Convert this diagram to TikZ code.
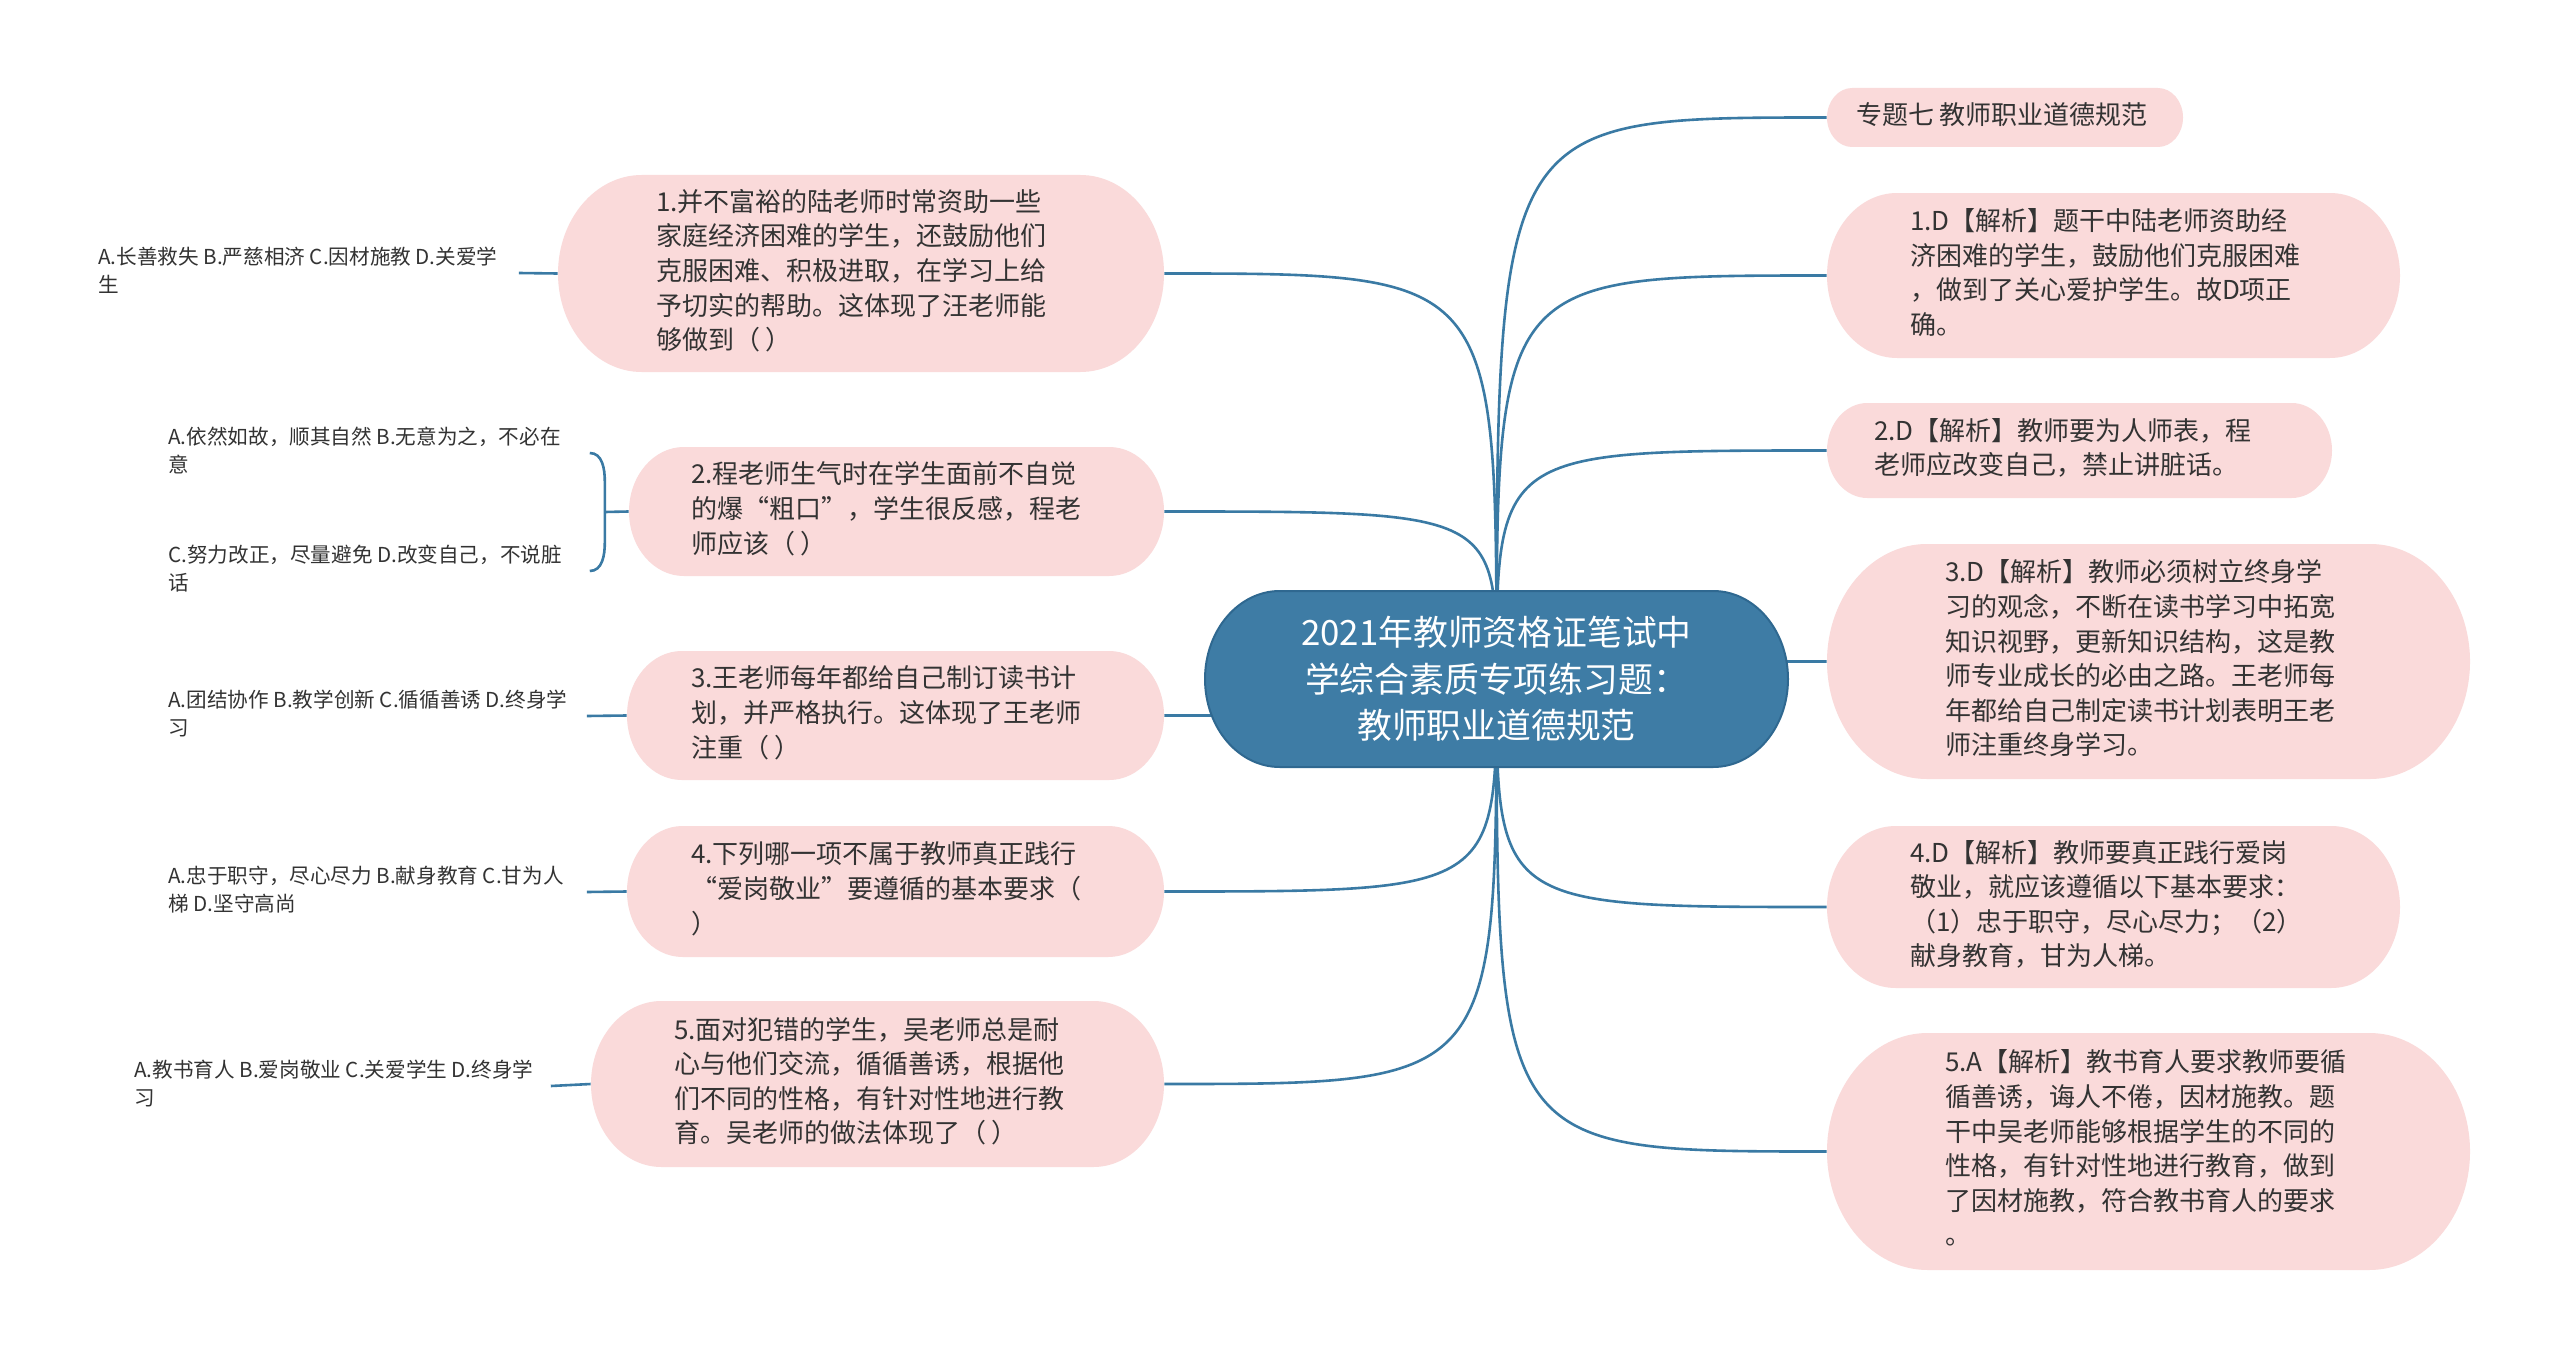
\documentclass[tikz,border=0pt]{standalone}
\usepackage{fontspec}
\setmainfont{Noto Sans CJK SC}
\usetikzlibrary{backgrounds,calc}
\definecolor{edgeblue}{HTML}{3A7AA4}
\definecolor{pinkbg}{HTML}{FADADA}
\definecolor{centerbg}{HTML}{3E7CA5}
\definecolor{centerline}{HTML}{2F6890}
\definecolor{txt}{HTML}{333333}
\tikzset{
  edge/.style={draw=edgeblue, line width=1.3pt},
  pinkfill/.style={fill=pinkbg},
  centerfill/.style={fill=centerbg, draw=centerline, line width=1pt},
  pinkbox/.style={inner sep=0pt, text=txt, font=\fontsize{13}{17.3}\selectfont},
  leaf/.style={inner sep=0pt, anchor=west, text=txt, font=\fontsize{10.3}{14}\selectfont},
  centernode/.style={inner sep=0pt, text=white, align=center, font=\fontsize{17.4}{23.3}\selectfont},
}
% pill outline: cx, cy, w, h, style (pixel units, y downward)
\newcommand\pillpath[5]{%
  \pgfmathsetmacro\pry{#4/2}\pgfmathsetmacro\prx{0.85*#4/2}%
  \path[#5] ({#1-#3/2+\prx},{-#2-\pry}) -- ({#1+#3/2-\prx},{-#2-\pry})
    arc[start angle=-90,end angle=90,x radius=\prx,y radius=\pry]
    -- ({#1-#3/2+\prx},{-#2+\pry})
    arc[start angle=90,end angle=270,x radius=\prx,y radius=\pry] -- cycle;}
\newcommand\boxtext[3]{\makebox[\dimexpr #1pt/2\relax][l]{\hspace*{\dimexpr #2pt/2\relax}\begin{tabular}{@{}l@{}}#3\end{tabular}}}
% name, cx, cy, w, h, pad, lines
\newcommand\pinknode[7]{%
  \pillpath{#2}{#3}{#4}{#5}{pinkfill}%
  \node[pinkbox, minimum width={#4*0.5pt}, minimum height={#5*0.5pt}] (#1) at (#2,-#3) {\boxtext{#4}{#6}{#7}};}
% name, left x, cy, width, lines
\newcommand\leafnode[5]{%
  \node[leaf] (#1) at (#2,-#3) {\makebox[\dimexpr #4pt/2\relax][l]{\begin{tabular}{@{}l@{}}#5\end{tabular}}};}

\begin{document}
\begin{tikzpicture}[x=0.5pt,y=0.5pt]
\useasboundingbox (0,0) rectangle (2560,-1359);

% centre
\pillpath{1496.5}{679}{583}{176}{centerfill}
\node[centernode, minimum width=291.5pt, minimum height=88pt] (C) at (1496.5,-679)
  {2021年教师资格证笔试中\\学综合素质专项练习题：\\教师职业道德规范};

% left question boxes
\pinknode{Q1}{861}{273.5}{606}{197}{98}{1.并不富裕的陆老师时常资助一些\\家庭经济困难的学生，还鼓励他们\\克服困难、积极进取，在学习上给\\予切实的帮助。这体现了汪老师能\\够做到（ ）}
\pinknode{Q2}{896.5}{511.5}{535}{129}{62}{2.程老师生气时在学生面前不自觉\\的爆“粗口”，学生很反感，程老\\师应该（ ）}
\pinknode{Q3}{895.5}{715.5}{537}{129}{64}{3.王老师每年都给自己制订读书计\\划，并严格执行。这体现了王老师\\注重（ ）}
\pinknode{Q4}{895.5}{891.5}{537}{131}{64}{4.下列哪一项不属于教师真正践行\\“爱岗敬业”要遵循的基本要求（\\）}
\pinknode{Q5}{877.5}{1084}{573}{166}{83}{5.面对犯错的学生，吴老师总是耐\\心与他们交流，循循善诱，根据他\\们不同的性格，有针对性地进行教\\育。吴老师的做法体现了（ ）}

% right answer boxes
\pinknode{R0}{2005}{117.5}{356}{59}{29}{专题七 教师职业道德规范}
\pinknode{R1}{2113.5}{275.5}{573}{165}{83}{1.D【解析】题干中陆老师资助经\\济困难的学生，鼓励他们克服困难\\，做到了关心爱护学生。故D项正\\确。}
\pinknode{R2}{2079.5}{450.5}{505}{95}{47}{2.D【解析】教师要为人师表，程\\老师应改变自己，禁止讲脏话。}
\pinknode{R3}{2148.5}{661.5}{643}{235}{118}{3.D【解析】教师必须树立终身学\\习的观念，不断在读书学习中拓宽\\知识视野，更新知识结构，这是教\\师专业成长的必由之路。王老师每\\年都给自己制定读书计划表明王老\\师注重终身学习。}
\pinknode{R4}{2113.5}{907}{573}{162}{83}{4.D【解析】教师要真正践行爱岗\\敬业，就应该遵循以下基本要求：\\（1）忠于职守，尽心尽力；（2）\\献身教育，甘为人梯。}
\pinknode{R5}{2148.5}{1151.5}{643}{237}{118}{5.A【解析】教书育人要求教师要循\\循善诱，诲人不倦，因材施教。题\\干中吴老师能够根据学生的不同的\\性格，有针对性地进行教育，做到\\了因材施教，符合教书育人的要求\\。}

% leaf option texts
\leafnode{L1}{98}{273}{420}{A.长善救失 B.严慈相济 C.因材施教 D.关爱学\\生}
\leafnode{L2a}{168}{453}{421}{A.依然如故，顺其自然 B.无意为之，不必在\\意}
\leafnode{L2b}{168}{571}{421}{C.努力改正，尽量避免 D.改变自己，不说脏\\话}
\leafnode{L3}{168}{716}{418}{A.团结协作 B.教学创新 C.循循善诱 D.终身学\\习}
\leafnode{L4}{168}{892}{418}{A.忠于职守，尽心尽力 B.献身教育 C.甘为人\\梯 D.坚守高尚}
\leafnode{L5}{134}{1086}{416}{A.教书育人 B.爱岗敬业 C.关爱学生 D.终身学\\习}

\coordinate (B2) at ($(L2a.east)!0.5!(L2b.east)+(15,0)$);

\begin{scope}[on background layer]
  \fill[white] (0,0) rectangle (2560,-1359);
  \foreach \n in {Q1,Q2,Q3,Q4,Q5}
    \draw[edge] (C.center) .. controls (C.center |- \n.east) .. (\n.east);
  \foreach \n in {R0,R1,R2,R3,R4,R5}
    \draw[edge] (C.center) .. controls (C.center |- \n.west) .. (\n.west);
\end{scope}

\draw[edge] (L1.east) -- (Q1.west);
\draw[edge] (L2a.east) to[out=0,in=90] ($(L2a.east)+(15,-28)$) -- ($(L2b.east)+(15,28)$) to[out=-90,in=0] (L2b.east);
\draw[edge] (B2) -- (Q2.west);
\draw[edge] (L3.east) -- (Q3.west);
\draw[edge] (L4.east) -- (Q4.west);
\draw[edge] (L5.east) -- (Q5.west);
\end{tikzpicture}
\end{document}
